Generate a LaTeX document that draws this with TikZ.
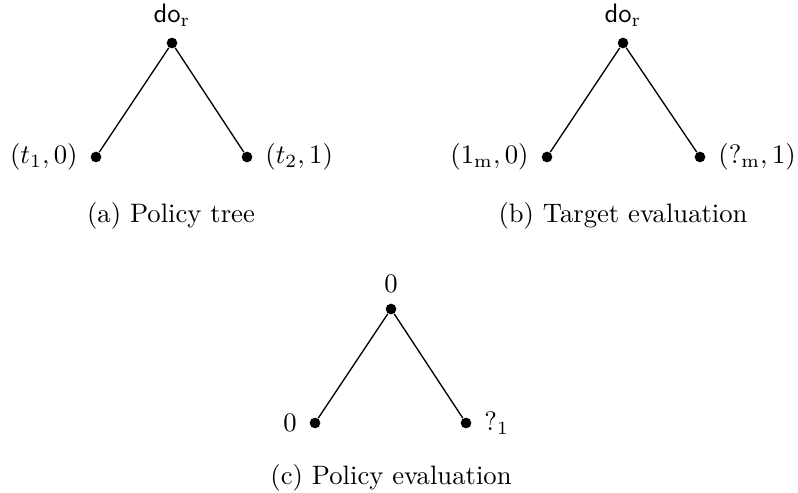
\documentclass[tikz,border=0pt]{standalone}
\begin{document}
\begin{tikzpicture}[x=0.375pt,y=-0.375pt,
  dot/.style={circle,fill=black,inner sep=0pt,minimum size=4pt},
  edge/.style={line width=0.5pt},
  lab/.style={inner sep=3.3pt},
  labup/.style={lab,label distance=0.5pt},
  labside/.style={lab,label distance=1.2pt},
  captext/.style={anchor=base,inner sep=0pt}]
\useasboundingbox (0,0) rectangle (798,492);
% (a) Policy tree
\node[dot,label={[labup,name=la0]above:$\mathsf{do}_{\mathrm{r}}$}] (a0) at (172,43) {};
\node[dot,label={[labside,name=la1]left:$(t_1, 0)$}] (a1) at (96,157) {};
\node[dot,label={[labside,name=la2]right:$(t_2, 1)$}] (a2) at (247,157) {};
\draw[edge] (a0) -- (a1);
\draw[edge] (a0) -- (a2);
\node[captext] (capa) at (171,222) {(a) Policy tree};
% (b) Target evaluation
\node[dot,label={[labup,name=lb0]above:$\mathsf{do}_{\mathrm{r}}$}] (b0) at (623,43) {};
\node[dot,label={[labside,name=lb1]left:$(1_{\mathrm{m}}, 0)$}] (b1) at (547,157) {};
\node[dot,label={[labside,name=lb2]right:$(?_{\mathrm{m}}, 1)$}] (b2) at (700,157) {};
\draw[edge] (b0) -- (b1);
\draw[edge] (b0) -- (b2);
\node[captext] (capb) at (623,222) {(b) Target evaluation};
% (c) Policy evaluation
\node[dot,label={[labup,name=lc0]above:$0$}] (c0) at (391,309) {};
\node[dot,label={[labside,name=lc1]left:$0$}] (c1) at (315,423) {};
\node[dot,label={[labside,name=lc2]right:$?_1$}] (c2) at (466,423) {};
\draw[edge] (c0) -- (c1);
\draw[edge] (c0) -- (c2);
\node[captext] (capc) at (391,484) {(c) Policy evaluation};
\end{tikzpicture}
\end{document}
